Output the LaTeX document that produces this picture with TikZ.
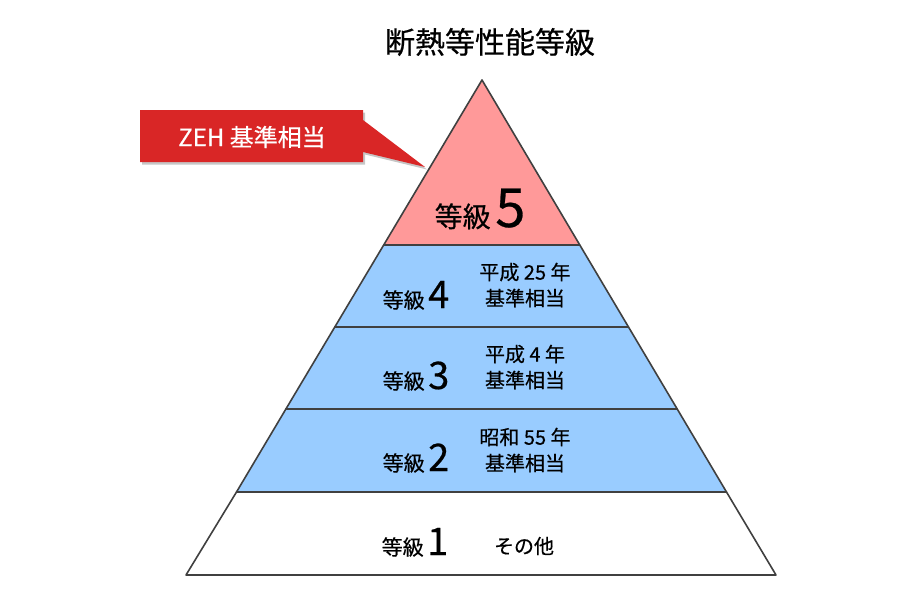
\documentclass[tikz,border=0pt]{standalone}
\usepackage{fontspec}
\setmainfont{Noto Sans CJK JP}[FakeBold=0.5]
\usetikzlibrary{shadows}
\definecolor{pinkfill}{HTML}{FF9999}
\definecolor{bluefill}{HTML}{99CCFF}
\definecolor{edge}{HTML}{404040}
\definecolor{calloutred}{HTML}{D92626}
\newcommand{\fsz}[1]{\fontsize{#1}{#1}\selectfont}
\tikzset{
  tier/.style={draw=edge, line width=1.6pt, line join=round},
  lbl/.style={inner sep=0pt, anchor=base, text=black},
  sub/.style={inner sep=0pt, align=center, text=black, font=\fontsize{20}{26}\selectfont},
}
\begin{document}
\begin{tikzpicture}[x=1pt,y=-1pt]
\useasboundingbox (0,0) rectangle (900,600);
% pyramid geometry: apex (482,80)
\coordinate (apex) at (482,80);
\coordinate (l5) at (383.7,245); \coordinate (r5) at (579.8,245);
\coordinate (l4) at (334.8,327); \coordinate (r4) at (628.5,327);
\coordinate (l3) at (285.9,409); \coordinate (r3) at (677.2,409);
\coordinate (l2) at (236.5,492); \coordinate (r2) at (726.5,492);
\coordinate (l1) at (186,575); \coordinate (r1) at (776,575);
\draw[tier, fill=white] (l2) -- (r2) -- (r1) -- (l1) -- cycle;
\draw[tier, fill=bluefill] (l3) -- (r3) -- (r2) -- (l2) -- cycle;
\draw[tier, fill=bluefill] (l4) -- (r4) -- (r3) -- (l3) -- cycle;
\draw[tier, fill=bluefill] (l5) -- (r5) -- (r4) -- (l4) -- cycle;
\draw[tier, fill=pinkfill] (apex) -- (r5) -- (l5) -- cycle;
% callout
\fill[calloutred, drop shadow={opacity=0.45, shadow xshift=2pt, shadow yshift=-2.5pt}]
  (140,110) -- (363,110) -- (363,120) -- (425,167) -- (363,152) -- (363,162) -- (140,162) -- cycle;
\node[inner sep=0pt, text=white, font=\fsz{24}] (zeh) at (252,137) {ZEH 基準相当};
% title
\node[inner sep=0pt, font=\fsz{30}] (title) at (490,42) {断熱等性能等級};
% labels
\node[lbl, font=\fsz{28}] (g5) at (480,227) {等級\,{\fsz{54}5}};
\node[lbl, font=\fsz{21}] (g4) at (416,308) {等級\,{\fsz{38}4}};
\node[sub] (s4) at (525,285) {平成 25 年\\基準相当};
\node[lbl, font=\fsz{21}] (g3) at (416,389) {等級\,{\fsz{38}3}};
\node[sub] (s3) at (525,367) {平成 4 年\\基準相当};
\node[lbl, font=\fsz{21}] (g2) at (416,471) {等級\,{\fsz{38}2}};
\node[sub] (s2) at (525,450) {昭和 55 年\\基準相当};
\node[lbl, font=\fsz{21}] (g1) at (415,555) {等級\,{\fsz{38}1}};
\node[inner sep=0pt, font=\fsz{20}] (s1) at (524,546) {その他};
\end{tikzpicture}
\end{document}
